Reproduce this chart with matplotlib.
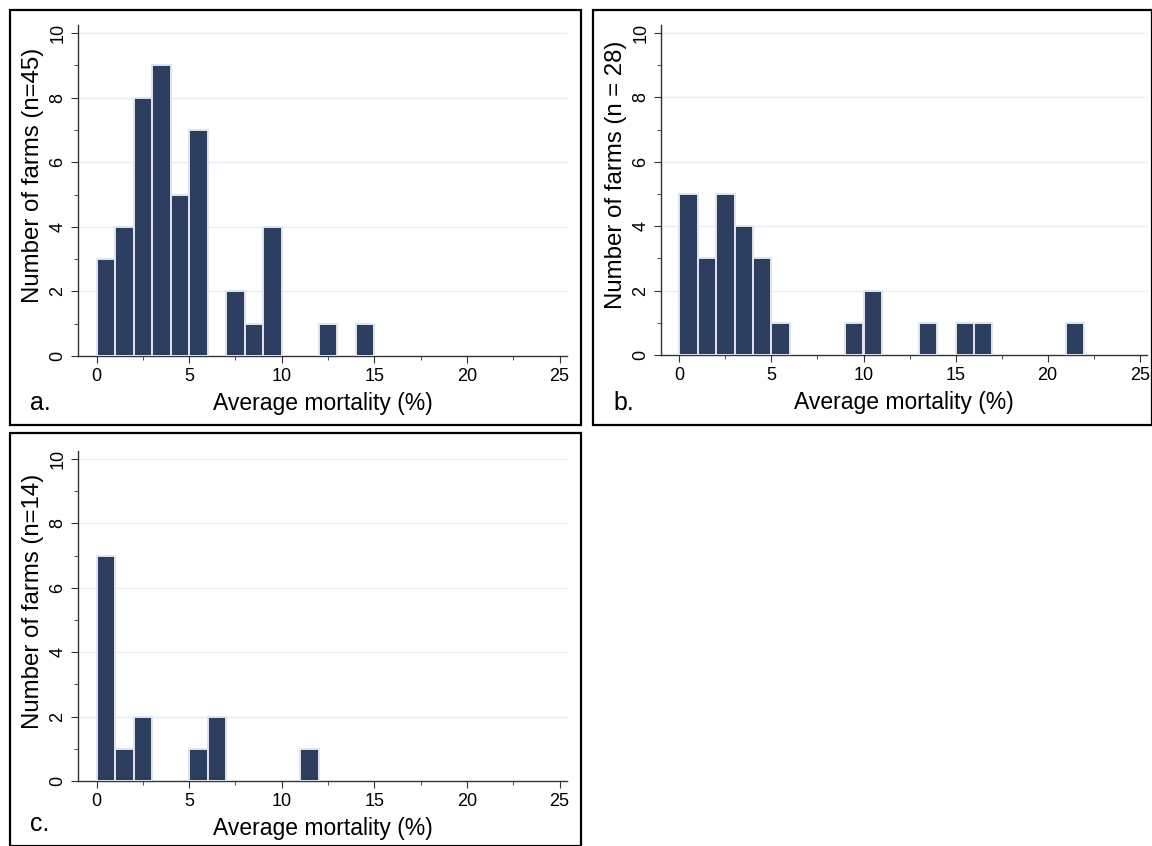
import matplotlib
matplotlib.use("Agg")
import matplotlib.pyplot as plt
from matplotlib.patches import Rectangle
from matplotlib.ticker import MultipleLocator

plt.rcParams['font.family'] = ['Liberation Sans', 'DejaVu Sans']

# histogram bins are 1% wide, starting at the left edge
bins_a = [0, 1, 2, 3, 4, 5, 7, 8, 9, 12, 14]
counts_a = [3, 4, 8, 9, 5, 7, 2, 1, 4, 1, 1]

bins_b = [0, 1, 2, 3, 4, 5, 9, 10, 13, 15, 16, 21]
counts_b = [5, 3, 5, 4, 3, 1, 1, 2, 1, 1, 1, 1]

bins_c = [0, 1, 2, 5, 6, 11]
counts_c = [7, 1, 2, 1, 2, 1]

panels = [
    ("a.", "Number of farms (n=45)", bins_a, counts_a),
    ("b.", "Number of farms (n = 28)", bins_b, counts_b),
    ("c.", "Number of farms (n=14)", bins_c, counts_c),
]

W, H = 1152, 846
fig = plt.figure(figsize=(W / 100, H / 100), dpi=100)

# boxes (pixels: left, top, right, bottom) and axes area inside each
boxes = [(10, 10, 581, 425), (593, 10, 1152, 425), (10, 433, 581, 846)]
axes_px = [(78, 25, 567, 356), (661, 25, 1147, 355), (78, 451, 567, 781)]

bar_color = "#2c3e5f"
edge_color = "#dfe4ee"

for (tag, ylab, bins, counts), box, ap in zip(panels, boxes, axes_px):
    l, t, r, b = box
    fig.patches.append(Rectangle((l / W, 1 - b / H), (r - l) / W, (b - t) / H,
                                 transform=fig.transFigure, fill=False,
                                 edgecolor="black", linewidth=1.6))
    al, at, ar, ab = ap
    ax = fig.add_axes([al / W, 1 - ab / H, (ar - al) / W, (ab - at) / H])
    ax.bar(bins, counts, width=1, align="edge", color=bar_color,
           edgecolor=edge_color, linewidth=1.4, zorder=3)
    ax.set_xlim(-1.0, 25.4)
    ax.set_ylim(0, 10.25)
    ax.xaxis.set_major_locator(MultipleLocator(5))
    ax.xaxis.set_minor_locator(MultipleLocator(2.5))
    ax.yaxis.set_major_locator(MultipleLocator(2))
    ax.yaxis.set_minor_locator(MultipleLocator(1))
    for yv in [2, 4, 6, 8, 10]:
        ax.axhline(yv, color="#e6edf3", linewidth=1.0, zorder=1)
    for s in ["top", "right"]:
        ax.spines[s].set_visible(False)
    for s in ["left", "bottom"]:
        ax.spines[s].set_color("#333333")
        ax.spines[s].set_linewidth(1.0)
    ax.tick_params(axis="both", which="major", length=5, labelsize=13,
                   color="#333333")
    ax.tick_params(axis="both", which="minor", length=3, color="#333333")
    plt.setp(ax.get_yticklabels(), rotation=90, va="center")
    ax.set_xlabel("Average mortality (%)", fontsize=16.5, labelpad=5)
    ax.set_ylabel(ylab, fontsize=17.3)
    ax.yaxis.set_label_coords(-0.07, 0.545)
    fig.text((l + 20) / W, 1 - (b - 22) / H, tag, fontsize=18,
             ha="left", va="center")

fig.savefig("out.png", dpi=100)
